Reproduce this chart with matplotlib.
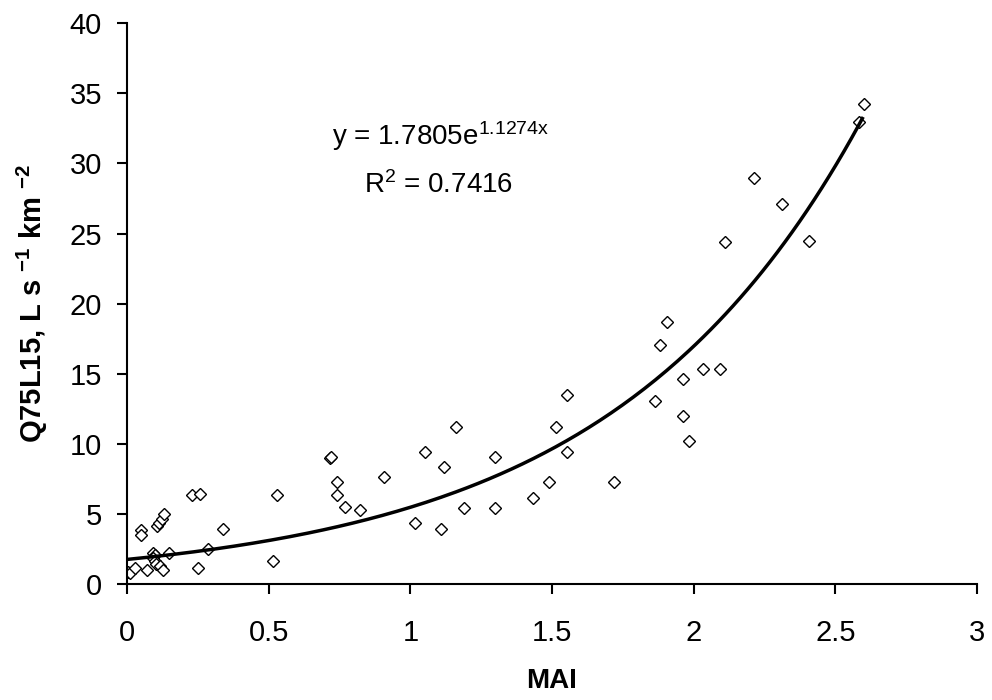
import numpy as np
import matplotlib
matplotlib.use('Agg')
import matplotlib.pyplot as plt

plt.rcParams['font.family'] = ['Liberation Sans', 'DejaVu Sans']
plt.rcParams['mathtext.fontset'] = 'custom'
plt.rcParams['mathtext.rm'] = 'Liberation Sans'
plt.rcParams['mathtext.it'] = 'Liberation Sans'
plt.rcParams['mathtext.bf'] = 'Liberation Sans:bold'

# MAI vs Q75L15
mai = [0.005, 0.012, 0.03, 0.072, 0.048, 0.048,
       0.105, 0.113, 0.122, 0.13,
       0.092, 0.098, 0.093, 0.098, 0.104, 0.115, 0.127, 0.147,
       0.228, 0.258, 0.252, 0.287, 0.34, 0.516, 0.528,
       0.715, 0.72, 0.74, 0.74, 0.769, 0.822, 0.908,
       1.016, 1.052, 1.108, 1.12, 1.161, 1.19,
       1.299, 1.299, 1.432, 1.489, 1.513, 1.552, 1.552,
       1.72, 1.864, 1.881, 1.905, 1.961, 1.961, 1.985,
       2.031, 2.093, 2.11, 2.214, 2.313, 2.407, 2.584, 2.602]
q75 = [0.9, 0.8, 1.2, 1.0, 3.9, 3.55,
       4.15, 4.4, 4.65, 5.0,
       2.25, 2.1, 1.9, 1.7, 1.45, 1.3, 1.05, 2.25,
       6.35, 6.45, 1.2, 2.55, 3.95, 1.65, 6.35,
       9.0, 9.1, 7.3, 6.35, 5.55, 5.3, 7.65,
       4.4, 9.45, 3.95, 8.35, 11.2, 5.45,
       9.1, 5.45, 6.15, 7.3, 11.2, 13.5, 9.45,
       7.3, 13.05, 17.05, 18.7, 14.65, 12.0, 10.2,
       15.35, 15.35, 24.4, 28.95, 27.1, 24.5, 32.95, 34.2]

# exponential trend line
a, b = 1.7805, 1.1274
xfit = np.linspace(0, 2.595, 200)
yfit = a * np.exp(b * xfit)

fig = plt.figure(figsize=(9.92, 7), dpi=100)
ax = fig.add_axes([0.128, 0.1651, 0.857, 0.802])

ax.plot(mai, q75, linestyle='none', marker='D', markersize=6.5,
        markerfacecolor='white', markeredgecolor='black', markeredgewidth=1.0)
ax.plot(xfit, yfit, color='black', linewidth=2.5)

ax.set_xlim(0, 3)
ax.set_ylim(0, 40)
ax.set_xticks(np.arange(0, 3.01, 0.5))
ax.set_xticklabels(['0', '0.5', '1', '1.5', '2', '2.5', '3'])
ax.set_yticks(np.arange(0, 41, 5))

for s in ['top', 'right']:
    ax.spines[s].set_visible(False)
for s in ['left', 'bottom']:
    ax.spines[s].set_linewidth(1.5)
ax.tick_params(direction='out', length=7, width=1.5, labelsize=21)
ax.tick_params(axis='x', pad=18)
ax.tick_params(axis='y', pad=11)

ax.set_xlabel('MAI', fontsize=20, fontweight='bold', labelpad=15)
ax.set_ylabel(r'Q75L15, L s $^{\mathbf{-1}}$ km $^{\mathbf{-2}}$',
              fontsize=21, fontweight='bold', labelpad=14)

ax.text(1.105, 31.3, r'y = 1.7805e$^{\mathrm{1.1274x}}$', fontsize=20,
        ha='center', va='baseline')
ax.text(1.1, 27.9, r'R$^{2}$ = 0.7416', fontsize=20, ha='center', va='baseline')

plt.savefig('out.png', dpi=100)
